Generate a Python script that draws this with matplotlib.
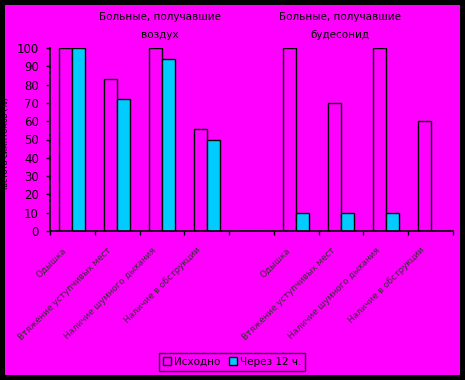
import matplotlib
matplotlib.use("Agg")
import matplotlib.pyplot as plt
import numpy as np
from matplotlib.patches import Rectangle

# symptom categories (empty slot separates the two patient groups)
categories = [
    "Одышка", "Втяжение уступчивых мест", "Наличие шумного дыхания", "Наличие в обструкции",
    "",
    "Одышка", "Втяжение уступчивых мест", "Наличие шумного дыхания", "Наличие в обструкции",
]
baseline = [100, 83, 100, 56, 0, 100, 70, 100, 60]
after_12h = [100, 72, 94, 50, 0, 10, 10, 10, 0]
series_names = ["Исходно", "Через 12 ч."]
group_titles = ["Больные, получавшие\nвоздух", "Больные, получавшие\nбудесонид"]
y_ticks = [0, 10, 20, 30, 40, 50, 60, 70, 80, 90, 100]

MAGENTA = "#FF00FF"
CYAN = "#00CCFF"

W, H = 465, 380
fig = plt.figure(figsize=(W / 100, H / 100), dpi=100)
fig.patch.set_facecolor("black")
fig.patches.append(Rectangle((5 / W, 5 / H), 455 / W, 370 / H,
                             transform=fig.transFigure, facecolor=MAGENTA,
                             edgecolor="none", zorder=-10))

ax = fig.add_axes([50 / W, 1 - 231 / H, 403 / W, 183 / H])
ax.set_facecolor("none")
ax.set_zorder(1)

x = np.arange(len(categories))
bw = 0.29
ax.bar(x - bw / 2, baseline, width=bw, color=MAGENTA, edgecolor="black",
       linewidth=1, label=series_names[0])
ax.bar(x + bw / 2, after_12h, width=bw, color=CYAN, edgecolor="black",
       linewidth=1, label=series_names[1])

ax.set_xlim(-0.5, len(categories) - 0.5)
ax.set_ylim(0, 100)
ax.set_yticks(y_ticks)
ax.set_yticklabels([str(v) for v in y_ticks], fontsize=8.5)
ax.tick_params(axis="y", length=3, width=1, color="black", pad=5)

# ticks at category boundaries, labels at centers
ax.set_xticks(np.arange(len(categories) + 1) - 0.5)
ax.set_xticklabels([])
ax.tick_params(axis="x", length=3, width=1, color="black")
for xi, lab in zip(x, categories):
    if lab:
        ax.text(xi - 0.24, -8, lab, rotation=45, ha="right", va="top",
                rotation_mode="anchor", fontsize=6.3, color="#303030")

for side in ["top", "right"]:
    ax.spines[side].set_visible(False)
for side in ["left", "bottom"]:
    ax.spines[side].set_linewidth(1.2)

fig.text(160 / W, 1 - 26 / H, group_titles[0], ha="center", va="center",
         fontsize=7.5, linespacing=1.9)
fig.text(340 / W, 1 - 26 / H, group_titles[1], ha="center", va="center",
         fontsize=7.5, linespacing=1.9)

fig.text(6 / W, 1 - 145 / H, "Частота симптомов (%)", rotation=90,
         ha="center", va="center", fontsize=5.5)

leg = ax.legend(loc="center", bbox_to_anchor=(232 / W, 1 - 362 / H),
                bbox_transform=fig.transFigure, ncol=2, fontsize=7.5,
                frameon=True, fancybox=False, handlelength=0.8,
                handleheight=0.8, handletextpad=0.3, columnspacing=0.8,
                borderpad=0.35)
leg.get_frame().set_facecolor(MAGENTA)
leg.get_frame().set_edgecolor("black")
leg.get_frame().set_linewidth(1)

fig.savefig("out.png", dpi=100, facecolor=fig.get_facecolor())
